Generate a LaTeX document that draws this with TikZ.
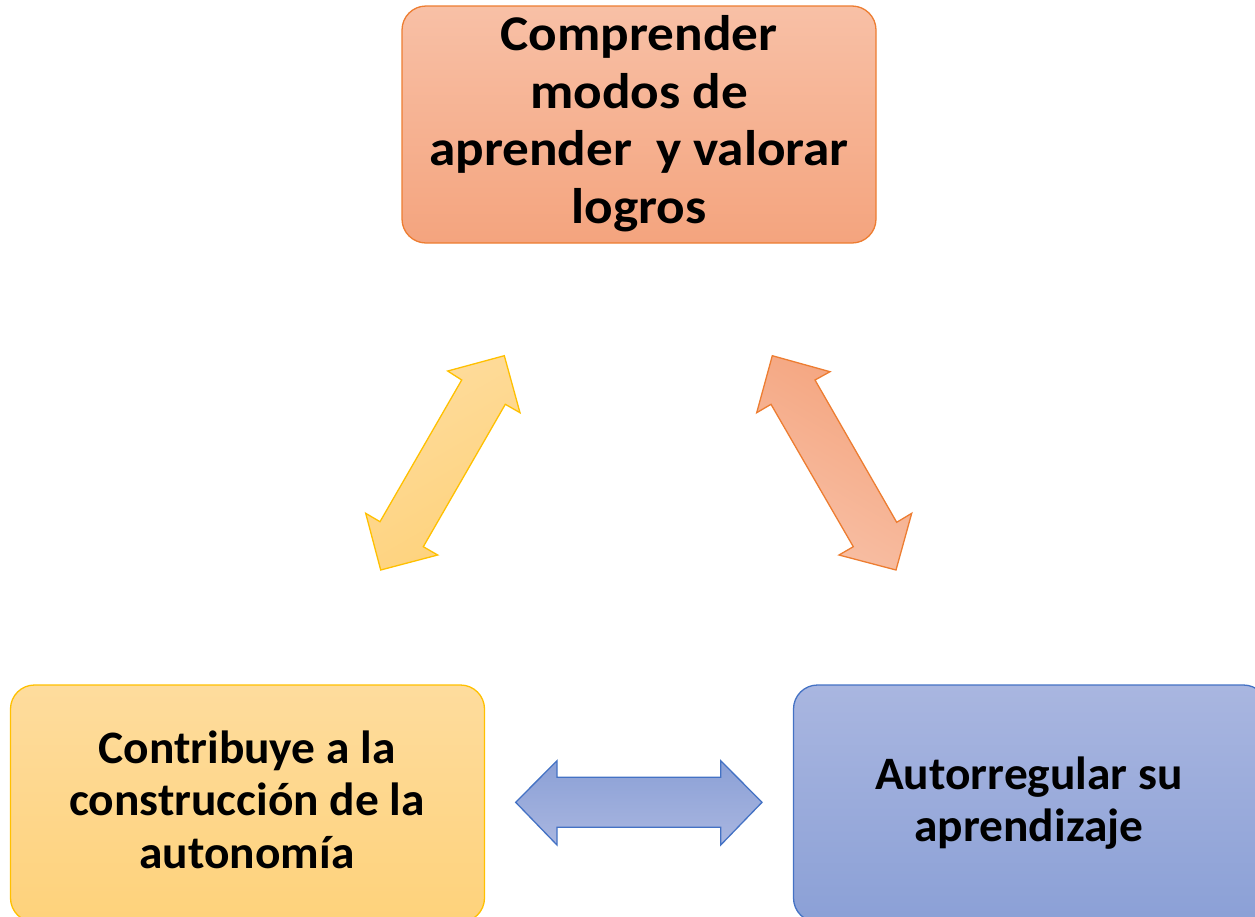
\documentclass[tikz,border=0pt]{standalone}
\usepackage{fontspec}
\setmainfont{Carlito}[FakeStretch=1.02]
\newfontfamily\topfont{Carlito}[FakeStretch=1.065]
\definecolor{orgD}{HTML}{ED7D31}
\definecolor{orgT}{HTML}{F8C0A6}
\definecolor{orgB}{HTML}{F4A47E}
\definecolor{yelD}{HTML}{FFC000}
\definecolor{yelT}{HTML}{FEDC9D}
\definecolor{yelB}{HTML}{FED27B}
\definecolor{bluD}{HTML}{4472C4}
\definecolor{bluT}{HTML}{A9B6E0}
\definecolor{bluB}{HTML}{8BA0D6}
\begin{document}
\begin{tikzpicture}[x=1pt,y=-1pt,
  box/.style={rounded corners=24pt, line width=1.3pt, minimum width=474pt, minimum height=237pt, inner sep=0pt},
  txt/.style={font=\bfseries\fontsize{46.5}{52.5}\selectfont, align=center, anchor=base, inner sep=0pt},
  blk/.style={line width=1.3pt, line join=miter}]
\useasboundingbox (0,0) rectangle (1255,916);
% boxes
\node[box, draw=orgD, top color=orgT, bottom color=orgB] (top) at (639,124.5) {};
\node[box, draw=yelD, top color=yelT, bottom color=yelB] (left) at (247.5,803.5) {};
\node[box, draw=bluD, top color=bluT, bottom color=bluB] (right) at (1030.5,803.5) {};
% texts (anchor=base is the last line's baseline)
\node[txt, font=\topfont\bfseries\fontsize{50}{57.5}\selectfont] (ttop) at (639,223.3) {Comprender\\modos de\\aprender\ \ y valorar\\logros};
\node[txt] (tleft) at (247,868.3) {Contribuye a la\\construcción de la\\autonomía};
\node[txt] (tright) at (1029,841.7) {Autorregular su\\aprendizaje};
% block arrows
\path[blk, draw=yelD, shading=axis, top color=yelT, bottom color=yelB, shading angle=30]
  (504.3,355.7) -- (520,412.7) -- (505.3,404.3) -- (423.3,546.7) -- (437.7,555)
  -- (380.7,570) -- (365.7,513.3) -- (380,521.7) -- (461.7,380) -- (447.7,371) -- cycle;
\path[blk, draw=orgD, shading=axis, top color=orgB, bottom color=orgT, shading angle=-30]
  (772.3,355.7) -- (830,371.7) -- (815,380) -- (896.7,522.3) -- (911.7,513.3)
  -- (896,570) -- (839,555) -- (853.3,546.7) -- (771,404.3) -- (756.7,412.7) -- cycle;
\path[blk, draw=bluD, top color=bluB, bottom color=bluT]
  (515.7,802.3) -- (557,760.7) -- (557,777.3) -- (720.7,777.3) -- (720.7,760.7)
  -- (762,802.3) -- (720.7,845) -- (720.7,827.3) -- (557,827.3) -- (557,845) -- cycle;
\end{tikzpicture}
\end{document}
